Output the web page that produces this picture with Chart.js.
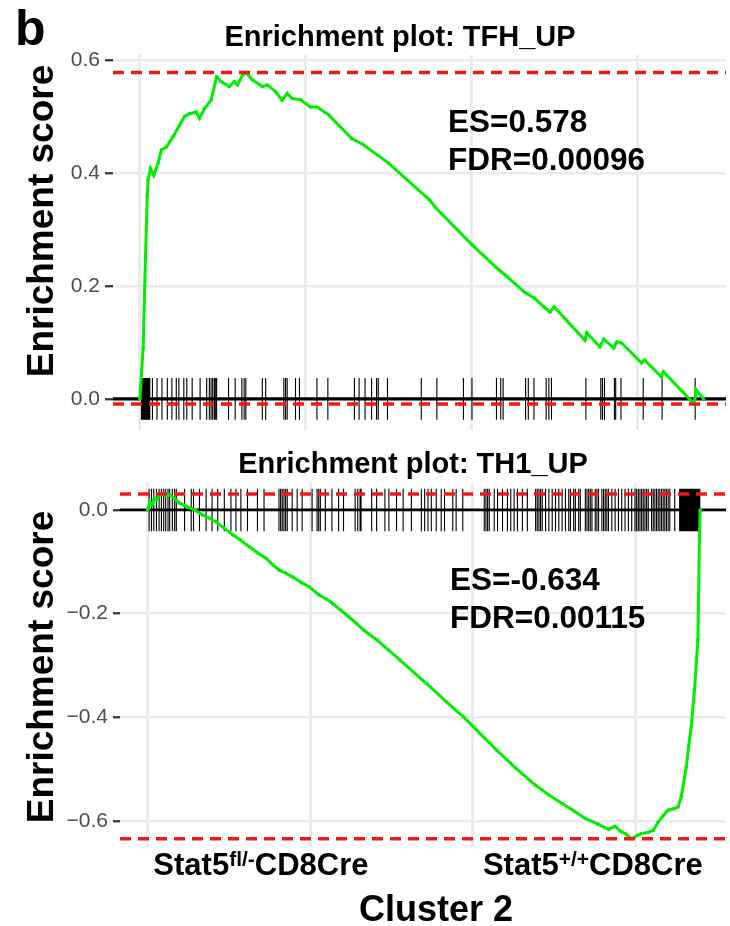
<!DOCTYPE html>
<html>
<head>
<meta charset="utf-8">
<script src="https://cdn.jsdelivr.net/npm/chart.js@4.4.1/dist/chart.umd.min.js"></script>
<style>
  html, body { margin: 0; padding: 0; background: #ffffff; }
  #wrap { position: relative; width: 730px; height: 926px; overflow: hidden; }
  canvas { position: absolute; left: 0; }
  #tfh { top: 0; }
  #th1 { top: 440px; }
</style>
</head>
<body>
<div id="wrap">
  <canvas id="tfh" width="730" height="440"></canvas>
  <canvas id="th1" width="730" height="486"></canvas>
</div>
<script>
// ---------- gene set TFH_UP : running enrichment score ----------
const TFH_RANK = [0, 100, 170, 225, 250, 320, 420, 548, 650, 800, 997, 1198, 1347, 1497, 1698, 1796, 1946, 2147,
  2314, 2446, 2695, 2844, 2943, 3093, 3195, 3392, 3692, 3841, 4093, 4290, 4440, 4590, 4841, 5140, 5338, 5689,
  6387, 6736, 7485, 8734, 8922, 10030, 10718, 11018, 11617, 11886, 12216, 12365, 12485, 13413, 13473, 13862,
  13982, 14281, 14371, 14521, 15120, 15210, 15718, 15778, 16707, 16767, 16990];
const TFH_ES = [0.000, 0.090, 0.250, 0.360, 0.388, 0.408, 0.396, 0.417, 0.441, 0.446, 0.464, 0.485, 0.500, 0.505,
  0.508, 0.497, 0.514, 0.529, 0.570, 0.562, 0.553, 0.562, 0.556, 0.573, 0.578, 0.565, 0.553, 0.556, 0.544, 0.529,
  0.541, 0.532, 0.530, 0.517, 0.517, 0.503, 0.461, 0.450, 0.418, 0.352, 0.338, 0.272, 0.234, 0.219, 0.188, 0.179,
  0.161, 0.154, 0.163, 0.104, 0.117, 0.092, 0.106, 0.090, 0.101, 0.099, 0.064, 0.069, 0.039, 0.048, -0.009, 0.016,
  0.000];
// ranks of the TFH_UP genes in the ordered list
const TFH_HITS = [50, 65, 80, 95, 110, 125, 140, 155, 170, 185, 200, 215, 230, 245, 260, 275, 290, 300,
  380, 518, 668, 829, 967, 1099, 1177, 1326, 1416, 1578, 1817, 2015, 2096, 2147, 2195, 2246, 2275, 2314,
  2674, 2874, 3075, 3144, 3195, 3692, 3793, 4341, 4392, 4441, 4692, 4811, 5338, 5667, 6467, 6608, 6788,
  6985, 7135, 7186, 7464, 8482, 8952, 9752, 10009, 10748, 10877, 10949, 11626, 11707, 11878, 12246, 12327,
  12405, 13443, 13892, 13943, 14003, 14303, 14341, 14500, 15170, 15738, 16736];
const TFH_Y_TICKS = [0, 0.2, 0.4, 0.6];
const TFH_SCORE = 0.578;
const TFH_FDR = '0.00096';

// ---------- gene set TH1_UP : running enrichment score ----------
const TH1_RANK = [0, 60, 130, 200, 266, 350, 470, 560, 674, 820, 980, 1150, 1337, 1500, 1694, 1900, 2103, 2350,
  2613, 2850, 3123, 3380, 3634, 3850, 4042, 4250, 4449, 4700, 4960, 5267, 5500, 5674, 5950, 6185, 6420, 6645,
  7052, 7400, 7768, 8200, 8687, 9200, 9707, 10200, 10727, 11300, 11928, 12350, 12743, 13100, 13455, 13850,
  14171, 14372, 14525, 14700, 14883, 15050, 15188, 15380, 15546, 15698, 15850, 16004, 16180, 16310, 16411,
  16563, 16640, 16716, 16817, 16921, 16970, 16990];
const TH1_ES = [0.000, 0.016, 0.010, 0.022, 0.020, 0.028, 0.031, 0.027, 0.029, 0.022, 0.013, 0.008, 0.003, -0.002,
  -0.010, -0.016, -0.023, -0.035, -0.048, -0.058, -0.071, -0.083, -0.093, -0.106, -0.116, -0.122, -0.129, -0.139,
  -0.148, -0.164, -0.172, -0.180, -0.194, -0.206, -0.219, -0.232, -0.251, -0.270, -0.290, -0.314, -0.341, -0.371,
  -0.399, -0.430, -0.463, -0.497, -0.531, -0.550, -0.566, -0.580, -0.595, -0.606, -0.616, -0.610, -0.619, -0.625,
  -0.634, -0.628, -0.624, -0.622, -0.618, -0.602, -0.590, -0.579, -0.576, -0.573, -0.553, -0.496, -0.455, -0.418,
  -0.347, -0.251, -0.052, 0.000];
// ranks of the TH1_UP genes in the ordered list
const TH1_HITS = [40, 112, 183, 265, 346, 418, 489, 550, 621, 672, 754, 825, 876, 1131, 1335, 1406, 1589, 1793,
  1976, 2150, 2353, 2557, 2710, 2863, 3066, 3372, 3575, 4034, 4085, 4135, 4187, 4238, 4289, 4441, 4594, 4747,
  5053, 5206, 5256, 5307, 5460, 5664, 5868, 6020, 6377, 6458, 6530, 6560, 6886, 7038, 7294, 7416, 7650, 7854,
  8108, 8414, 8516, 8618, 8720, 8873, 9025, 9127, 9382, 9484, 9688, 10350, 10401, 10452, 10503, 10656, 10758,
  10911, 11063, 11165, 11267, 11369, 11522, 11675, 11930, 11981, 12032, 12082, 12133, 12235, 12337, 12439,
  12541, 12643, 12745, 12847, 12949, 13000, 13101, 13152, 13254, 13305, 13458, 13509, 13560, 13611, 13662,
  13764, 13815, 13866, 13968, 14019, 14070, 14120, 14171, 14273, 14375, 14477, 14579, 14681, 14783, 14885,
  14987, 15038, 15089, 15139, 15190, 15241, 15292, 15343, 15394, 15496, 15547, 15598, 15649, 15700, 15751,
  15802, 15853, 15904, 15955, 16006, 16057, 16209, 16360, 16380, 16400, 16420, 16440, 16460, 16480, 16500,
  16520, 16540, 16560, 16580, 16600, 16620, 16640, 16660, 16680, 16700, 16720, 16740, 16760, 16780, 16800,
  16820, 16840, 16860, 16880, 16900, 16920, 16940, 16960, 16980];
const TH1_Y_TICKS = [0, -0.2, -0.4, -0.6];
const TH1_SCORE = -0.634;
const TH1_FDR = '0.00115';

// shared x axis: vertical grid breaks and the two phenotype labels
const X_GRID = [0, 5000, 10000, 15000];
const GROUP_LABELS = [
  { base: 'Stat5', sup: 'fl/-', rest: 'CD8Cre', rank: 3480 },
  { base: 'Stat5', sup: '+/+', rest: 'CD8Cre', rank: 13690 }
];
const X_TITLE = 'Cluster 2';

const FONT = '"Liberation Sans", Arial, Helvetica, sans-serif';
const GREEN = '#00ee00';
const RED = '#f21818';

function fmtTick(v) {
  const s = Math.abs(v).toFixed(1);
  return v < -1e-9 ? '\u2212' + s : s;
}

function buildPanel(p) {
  const curve = p.rank.map((x, i) => ({ x, y: p.es[i] }));
  const hits = p.hits.flatMap(x => [{ x, y: -p.hitHalf }, { x, y: p.hitHalf }, { x, y: null }]);
  const hline = y => [{ x: p.xMin, y }, { x: p.xMax, y }];
  const esMax = Math.max(...p.es);
  const esMin = Math.min(...p.es);

  const textPlugin = {
    id: 'panelText',
    afterDraw(chart) {
      const ctx = chart.ctx;
      ctx.save();
      ctx.fillStyle = '#000';
      ctx.textBaseline = 'alphabetic';

      // panel title
      ctx.font = 'bold 29px ' + FONT;
      ctx.textAlign = 'center';
      ctx.fillText(p.title, p.titleX, p.titleY);

      // score annotation
      ctx.font = 'bold 31.5px ' + FONT;
      ctx.textAlign = 'left';
      p.stats.forEach((line, i) => ctx.fillText(line, p.statsX, p.statsY[i]));

      // y axis title
      ctx.save();
      ctx.translate(p.yTitleX, p.yTitleY);
      ctx.rotate(-Math.PI / 2);
      ctx.font = 'bold 37px ' + FONT;
      ctx.textAlign = 'center';
      ctx.fillText('Enrichment score', 0, 0);
      ctx.restore();

      if (p.extra) p.extra(chart, ctx);
      ctx.restore();
    }
  };

  return new Chart(document.getElementById(p.canvas), {
    type: 'scatter',
    data: {
      datasets: [
        { data: hline(esMax), showLine: true, borderColor: RED, borderWidth: 3.5, borderDash: [11, 7],
          pointRadius: 0, order: 0 },
        { data: hline(esMin), showLine: true, borderColor: RED, borderWidth: 3.5, borderDash: [11, 7],
          pointRadius: 0, order: 0 },
        { data: curve, showLine: true, borderColor: GREEN, borderWidth: 3, backgroundColor: GREEN,
          pointRadius: 1.8, pointBorderWidth: 0, tension: 0, order: 1 },
        { data: hline(0), showLine: true, borderColor: '#000', borderWidth: p.zeroW, pointRadius: 0, order: 2 },
        { data: hits, showLine: true, spanGaps: false, borderColor: '#000', borderWidth: 1.1, pointRadius: 0,
          order: 3 }
      ]
    },
    options: {
      responsive: false,
      animation: false,
      devicePixelRatio: 1,
      layout: { padding: { top: p.padTop, left: 0, right: 0, bottom: 0 } },
      plugins: { legend: { display: false }, tooltip: { enabled: false }, title: { display: false } },
      scales: {
        x: {
          type: 'linear', min: p.xMin, max: p.xMax,
          afterBuildTicks: s => { s.ticks = X_GRID.map(v => ({ value: v })); },
          afterFit: s => { s.height = p.xAxisH; s.paddingLeft = 0; s.paddingRight = 0; },
          ticks: { display: false },
          grid: { color: '#ebebeb', lineWidth: 3, drawTicks: false },
          border: { display: false }
        },
        y: {
          type: 'linear', min: p.yMin, max: p.yMax,
          afterBuildTicks: s => { s.ticks = p.yTicks.map(v => ({ value: v })); },
          afterFit: s => { s.width = p.yAxisW; s.paddingTop = 0; s.paddingBottom = 0; },
          ticks: { callback: v => fmtTick(v), color: '#4d4d4d', font: { family: FONT, size: 21 }, padding: 5 },
          grid: { color: '#ebebeb', lineWidth: 2.5, drawTicks: true, tickLength: p.tickLen, tickColor: '#333333',
                  tickWidth: 2.2 },
          border: { display: false }
        }
      }
    },
    plugins: [textPlugin]
  });
}

// top panel: TFH_UP
buildPanel({
  canvas: 'tfh', rank: TFH_RANK, es: TFH_ES, hits: TFH_HITS, yTicks: TFH_Y_TICKS,
  xMin: -808, xMax: 17665, yMin: -0.055, yMax: 0.609,
  padTop: 55, yAxisW: 113, xAxisH: 10, hitHalf: 0.037, tickLen: 8, zeroW: 3.2,
  title: 'Enrichment plot: TFH_UP', titleX: 400, titleY: 46,
  yTitleX: 53, yTitleY: 221,
  stats: ['ES=' + TFH_SCORE.toFixed(3), 'FDR=' + TFH_FDR], statsX: 448, statsY: [132, 170],
  extra: (chart, ctx) => {
    ctx.font = 'bold 50px ' + FONT;
    ctx.textAlign = 'left';
    ctx.fillText('b', 15, 45);
  }
});

// bottom panel: TH1_UP, with the phenotype labels underneath
buildPanel({
  canvas: 'th1', rank: TH1_RANK, es: TH1_ES, hits: TH1_HITS, yTicks: TH1_Y_TICKS,
  xMin: -856, xMax: 17786, yMin: -0.650, yMax: 0.052,
  padTop: 43, yAxisW: 120, xAxisH: 79, hitHalf: 0.041, tickLen: 7, zeroW: 2.8,
  title: 'Enrichment plot: TH1_UP', titleX: 413, titleY: 33,
  yTitleX: 53, yTitleY: 227,
  stats: ['ES=' + TH1_SCORE.toFixed(3), 'FDR=' + TH1_FDR], statsX: 450, statsY: [150, 188],
  extra: (chart, ctx) => {
    const xs = chart.scales.x;
    const mainFont = 'bold 31px ' + FONT;
    const supFont = 'bold 21px ' + FONT;
    ctx.textAlign = 'left';
    GROUP_LABELS.forEach(g => {
      ctx.font = mainFont;
      const w1 = ctx.measureText(g.base).width;
      const w3 = ctx.measureText(g.rest).width;
      ctx.font = supFont;
      const w2 = ctx.measureText(g.sup).width;
      let x = xs.getPixelForValue(g.rank) - (w1 + w2 + w3) / 2;
      const base = 435;
      ctx.font = mainFont; ctx.fillText(g.base, x, base); x += w1;
      ctx.font = supFont; ctx.fillText(g.sup, x, base - 9); x += w2;
      ctx.font = mainFont; ctx.fillText(g.rest, x, base);
    });
    ctx.font = 'bold 36px ' + FONT;
    ctx.textAlign = 'center';
    ctx.fillText(X_TITLE, 436, 481);
  }
});
</script>
</body>
</html>
